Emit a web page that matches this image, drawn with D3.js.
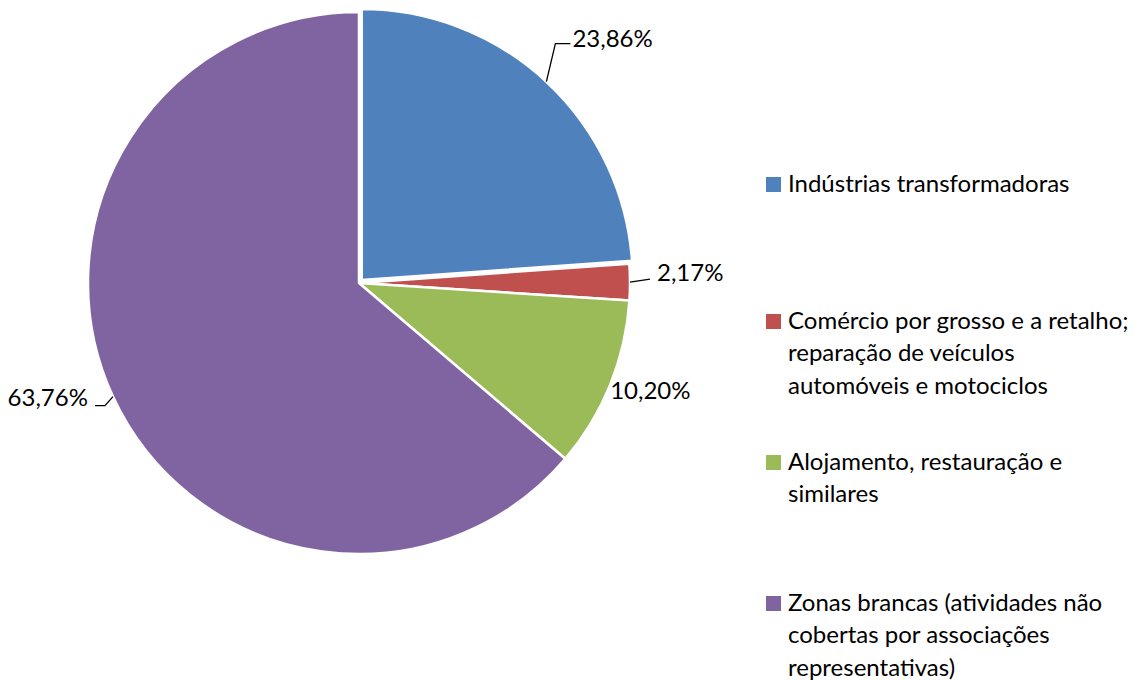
<!DOCTYPE html>
<html>
<head>
<meta charset="utf-8">
<script src="https://cdn.jsdelivr.net/npm/d3@7"></script>
<style>
  body { margin: 0; background: #fff; }
  text { font-family: Lato, "Open Sans", sans-serif; fill: #000; }
</style>
</head>
<body>
<svg id="drawing_region"></svg>
<script>
// data
const categories = [
    "Indústrias transformadoras",
    "Comércio por grosso e a retalho; reparação de veículos automóveis e motociclos",
    "Alojamento, restauração e similares",
    "Zonas brancas (atividades não cobertas por associações representativas)"
];
const values = [23.86, 2.17, 10.20, 63.76];
const colors = ["#4F81BD", "#C0504D", "#9BBB59", "#8064A2"];
const legendLines = [
    ["Indústrias transformadoras"],
    ["Comércio por grosso e a retalho;", "reparação de veículos", "automóveis e motociclos"],
    ["Alojamento, restauração e", "similares"],
    ["Zonas brancas (atividades não", "cobertas por associações", "representativas)"]
];

// layout (label leader paths relative to the slice edge point)
const labelLayout = [
    { path: [[9, -38], [24, -38]], text: [26, -35], anchor: "start" },
    { path: [[20, -3], [20, -3]], text: [27, -1], anchor: "start" },
    { path: null, text: [0, 14], anchor: "start" },
    { path: [[-8, 9], [-18, 9]], text: [-25, 9], anchor: "end" }
];
const explode = [4, 0, 0, 0];

const config = {
    width: 1147,
    height: 680,
    cx: 359,
    cy: 283,
    radius: 271
};

const locale = d3.formatLocale({ decimal: ",", thousands: ".", grouping: [3], currency: ["", "€"] });
const fmt = locale.format(".2f");

const data = categories.map((c, i) => ({ name: c, value: values[i], color: colors[i], i: i }));

const svg = d3.select("#drawing_region")
    .attr("width", config.width)
    .attr("height", config.height);

const pie = d3.pie().sort(null).value(d => d.value);
const arc = d3.arc().innerRadius(0).outerRadius(config.radius);
const arcs = pie(data);

const chart = svg.append("g")
    .attr("transform", `translate(${config.cx}, ${config.cy})`);

const mid = d => (d.startAngle + d.endAngle) / 2;

chart.selectAll("path.slice")
    .data(arcs)
    .join("path")
    .attr("class", "slice")
    .attr("d", arc)
    .attr("fill", d => d.data.color)
    .attr("stroke", "#fff")
    .attr("stroke-width", 2.5)
    .attr("stroke-linejoin", "round")
    .attr("transform", d => {
        const e = explode[d.index];
        return `translate(${e * Math.sin(mid(d))}, ${-e * Math.cos(mid(d))})`;
    });

// data labels
arcs.forEach(d => {
    const a = mid(d);
    const r = config.radius + explode[d.index];
    const ox = r * Math.sin(a);
    const oy = -r * Math.cos(a);
    const lay = labelLayout[d.index];
    if (lay.path) {
        const pts = [[ox, oy]].concat(lay.path.map(p => [ox + p[0], oy + p[1]]));
        chart.append("path")
            .attr("d", d3.line()(pts))
            .attr("fill", "none")
            .attr("stroke", "#000")
            .attr("stroke-width", 1.3);
    }
    chart.append("text")
        .attr("x", ox + lay.text[0])
        .attr("y", oy + lay.text[1])
        .attr("text-anchor", lay.anchor)
        .attr("font-size", 24)
        .text(fmt(d.data.value) + "%");
});

// legend
const legendTop = [192, 329, 470, 611];
const legend = svg.append("g").attr("transform", "translate(766, 0)");
const item = legend.selectAll("g.item")
    .data(data)
    .join("g")
    .attr("class", "item")
    .attr("transform", (d, i) => `translate(0, ${legendTop[i]})`);

item.append("rect")
    .attr("x", 0)
    .attr("y", -15)
    .attr("width", 15)
    .attr("height", 15)
    .attr("fill", d => d.color);

item.append("text")
    .attr("font-size", 24)
    .selectAll("tspan")
    .data((d, i) => legendLines[i])
    .join("tspan")
    .attr("x", 22)
    .attr("y", (d, j) => j * 32.4)
    .text(d => d);
</script>
</body>
</html>
